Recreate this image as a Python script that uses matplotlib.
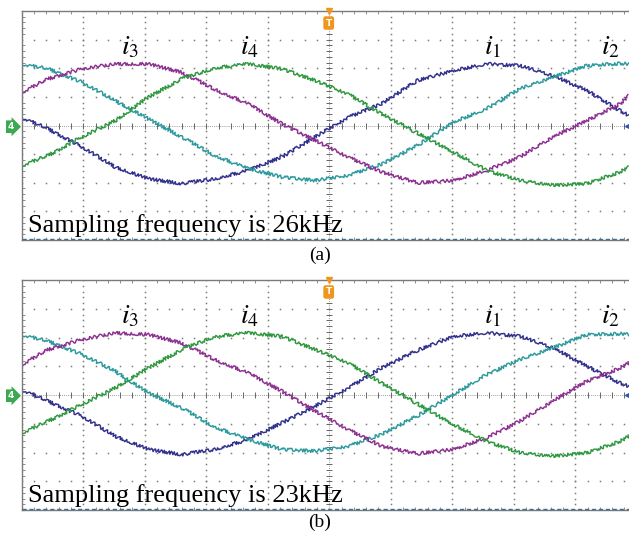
import matplotlib
matplotlib.use("Agg")
import matplotlib.pyplot as plt
import numpy as np

# trace samples, in scope divisions (screen is 10 x 8 div, centre at x=5, y=0)
x_div = [0, 0.43, 0.98, 1.52, 2.06, 2.6, 3.14, 3.68, 4.23, 4.77,
         5.31, 5.85, 6.43, 7.02, 7.56, 8.10, 8.64, 9.19, 9.73, 9.87]

# (a) sampling frequency 26kHz
i1_a = [0.29, -0.12, -0.75, -1.45, -1.86, -2.03, -1.86, -1.57, -1.10, -0.40,
        0.29, 0.76, 1.57, 1.92, 2.15, 2.09, 1.74, 1.22, 0.52, 0.35]
i2_a = [2.15, 1.98, 1.51, 0.87, 0.23, -0.40, -1.05, -1.51, -1.80, -1.92,
        -1.74, -1.35, -0.70, 0.12, 0.58, 1.28, 1.69, 2.09, 2.17, 2.15]
i3_a = [1.16, 1.63, 1.98, 2.15, 2.15, 1.86, 1.26, 0.76, 0.06, -0.52,
        -1.10, -1.62, -2.00, -1.92, -1.57, -1.10, -0.40, 0.17, 0.76, 1.05]
i4_a = [-1.39, -1.05, -0.40, 0.17, 0.99, 1.63, 2.01, 2.15, 1.98, 1.57,
        1.10, 0.41, -0.26, -0.93, -1.57, -1.92, -2.09, -2.03, -1.62, -1.45]

# (b) sampling frequency 23kHz
i1_b = [0.19, -0.22, -0.74, -1.43, -1.89, -2.07, -1.89, -1.55, -0.97, -0.39,
        0.25, 0.94, 1.55, 2.04, 2.16, 2.04, 1.64, 1.00, 0.42, 0.30]
i2_b = [2.10, 1.87, 1.41, 0.83, 0.07, -0.45, -1.11, -1.55, -1.89, -1.95,
        -1.78, -1.37, -0.73, 0.02, 0.71, 1.23, 1.64, 2.10, 2.13, 2.12]
i3_b = [1.06, 1.58, 1.93, 2.16, 2.10, 1.81, 1.23, 0.77, 0.13, -0.56,
        -1.20, -1.78, -2.04, -1.89, -1.49, -0.91, -0.21, 0.48, 0.94, 1.12]
i4_b = [-1.32, -0.91, -0.33, 0.25, 0.94, 1.58, 2.04, 2.16, 2.04, 1.58,
        1.12, 0.42, -0.30, -1.03, -1.61, -2.01, -2.13, -2.01, -1.61, -1.43]

labels = ["$i_1$", "$i_2$", "$i_3$", "$i_4$"]
label_x = [7.66, 9.57, 1.76, 3.71]
label_y = 2.78
colors = ["#30308c", "#2c9a9c", "#8c3090", "#2e983f"]

freq_text = ["Sampling frequency is 26kHz", "Sampling frequency is 23kHz"]
captions = ["(a)", "(b)"]

plt.rcParams['mathtext.fontset'] = 'stix'
serif = 'Liberation Serif'

W, H = 629, 540
fig = plt.figure(figsize=(W / 100, H / 100), dpi=100)

x_left = 21.7
div_px = 61.5
x_max = (W - x_left) / div_px
panels = [(11, 240), (280, 510)]   # top / bottom pixel rows of each screen
caption_y = [255, 522]
data = [[i1_a, i2_a, i3_a, i4_a], [i1_b, i2_b, i3_b, i4_b]]

grid_c = "#7c7c7c"
minor = np.arange(0, x_max, 0.2)
minor_y = np.arange(-4, 4.01, 0.2)

for k, (top, bot) in enumerate(panels):
    ax = fig.add_axes([x_left / W, 1 - bot / H, 1 - x_left / W, (bot - top) / H])
    ax.set_xlim(0, x_max)
    ax.set_ylim(-4, 4)

    # dotted graticule
    for gx in [1, 2, 3, 4, 6, 7, 8, 9]:
        ax.plot([gx] * len(minor_y), minor_y, ls="none", marker="s", ms=1.1,
                mec="none", mfc=grid_c)
    for gy in [-3, -2, -1, 1, 2, 3]:
        ax.plot(minor, [gy] * len(minor), ls="none", marker="s", ms=1.1,
                mec="none", mfc=grid_c)
    # centre cross with minor marks
    ax.plot([5, 5], [-4, 4], color=grid_c, lw=0.6, ls=(0, (1, 1.5)))
    ax.plot([0, x_max], [0, 0], color=grid_c, lw=0.6, ls=(0, (1, 1.5)))
    ax.plot([5] * len(minor_y), minor_y, ls="none", marker="_", ms=4,
            mew=0.7, color="#666666")
    ax.plot(minor, [0] * len(minor), ls="none", marker="|", ms=4,
            mew=0.7, color="#666666")

    for ys, c in zip(data[k], colors):
        ln, = ax.plot(x_div, ys, color=c, lw=1.05)
        ln.set_sketch_params(scale=1.6, length=2.2, randomness=3)

    for lab, lx in zip(labels, label_x):
        ax.text(lx, label_y, lab, fontsize=20, ha="center", va="center")

    ax.text(0.1, -3.72, freq_text[k], fontsize=19, family=serif,
            ha="left", va="baseline")

    # frame
    for s in ["left", "top", "bottom"]:
        ax.spines[s].set_color("#7a7a7a")
        ax.spines[s].set_linewidth(1.0)
    ax.spines["right"].set_visible(False)
    ax.plot([0, x_max], [-3.97, -3.97], color="#3f6f8f", lw=1.0,
            ls=(0, (3, 2)), clip_on=False, zorder=4)
    ax.set_xticks(np.arange(0, x_max, 1))
    ax.set_yticks(np.arange(-4, 4.01, 1))
    ax.set_xticks(minor, minor=True)
    ax.set_yticks(minor_y, minor=True)
    ax.tick_params(which="both", direction="in", top=True, right=False,
                   labelbottom=False, labelleft=False, color="#7a7a7a")
    ax.tick_params(which="major", length=0)
    ax.tick_params(which="minor", length=2.5, width=0.6)

    # scope markers
    ax.plot([5], [4], marker="v", ms=5, color="#f0961e", clip_on=False, zorder=5)
    fig.text(328.7 / W, 1 - (top + 12) / H, "T", color="white", fontsize=6.5,
             fontweight="bold", ha="center", va="center",
             bbox=dict(boxstyle="round,pad=0.25", fc="#f0961e", ec="none"))
    fig.text(11 / W, 1 - (top + 115.7) / H, "4", color="white", fontsize=6.5,
             fontweight="bold", ha="center", va="center",
             bbox=dict(boxstyle="rarrow,pad=0.2", fc="#3ca850", ec="none"))
    ax.plot([x_max], [0], marker="<", ms=6, color="#3050c0", clip_on=False,
            zorder=5)

    fig.text(320 / W, 1 - caption_y[k] / H, captions[k], fontsize=14,
             family=serif, ha="center", va="center")

fig.savefig("out.png", dpi=100)
